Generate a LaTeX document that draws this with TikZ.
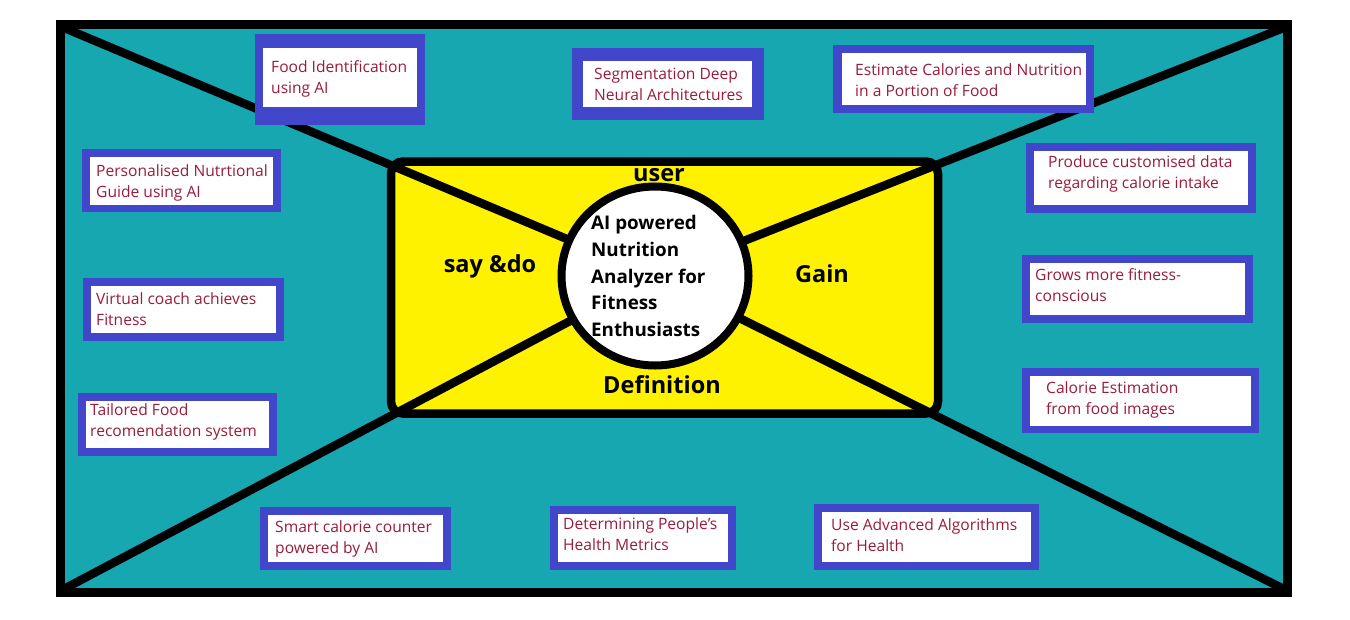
\documentclass[tikz,border=0pt]{standalone}
\usepackage{fontspec}
\setmainfont{Open Sans}
\usetikzlibrary{shapes.geometric}
\definecolor{tealbg}{HTML}{17A7B0}
\definecolor{boxblue}{HTML}{4146CB}
\definecolor{hubyellow}{HTML}{FFF200}
\definecolor{txtred}{HTML}{9A1C3C}
\tikzset{
  bluepart/.style={fill=boxblue},
  whitepart/.style={fill=white},
  boxtext/.style={anchor=west, align=left, inner sep=0pt, text=txtred, yshift=-1.5pt,
    font=\fontsize{15.6}{21}\selectfont},
  sidelabel/.style={inner sep=0pt, font=\fontsize{23.5}{26}\selectfont\bfseries},
  heavy/.style={line width=8.5pt, black},
}
\begin{document}
\begin{tikzpicture}[x=1pt,y=-1pt]
\useasboundingbox (0,0) rectangle (1350,619);
% background panel
\fill[tealbg] (60.5,24) rectangle (1287.5,592.5);
% central yellow rectangle
\draw[heavy, fill=hubyellow, rounded corners=12pt] (391,161.5) rectangle (938,413.5);
% diagonals
\coordinate (c) at (655,276);
\coordinate (tl) at (62,27);
\coordinate (tr) at (1286,27);
\coordinate (bl) at (62,590);
\coordinate (br) at (1286,590);
\draw[heavy] (tl) -- (c);
\draw[heavy] (tr) -- (c);
\draw[heavy] (bl) -- (c);
\draw[heavy] (br) -- (c);
% outer border
\draw[line width=9pt, black] (60.5,24) rectangle (1287.5,592.5);
% hub circle
\node[ellipse, draw=black, line width=8pt, fill=white, minimum width=187pt, minimum height=179pt, inner sep=0pt] (hub) at (c) {};
\node[anchor=west, align=left, inner sep=0pt, font=\fontsize{18.8}{26.7}\selectfont\bfseries] (hubtext) at (591,276)
  {AI powered\\Nutrition\\Analyzer for\\Fitness\\Enthusiasts};
% side labels
\node[sidelabel] (user) at (659,175) {user};
\node[sidelabel] (saydo) at (490,266) {say \&do};
\node[sidelabel] (gain) at (822,274) {Gain};
\node[sidelabel] (defn) at (662,385) {Definition};
% boxes
\fill[bluepart] (255,34) rectangle (425,125);
\fill[whitepart] (263,48) rectangle (417,107);
\node[boxtext] (t1) at (271,77.5) {Food Identification\\using AI};

\fill[bluepart] (82,149) rectangle (281,212);
\fill[whitepart] (90,157) rectangle (273,205);
\node[boxtext] (t2) at (96,181.5) {Personalised Nutrtional\\Guide using AI};

\fill[bluepart] (572,48) rectangle (764,120);
\fill[whitepart] (583,61) rectangle (752,107);
\node[boxtext] (t3) at (594,82.5) {Segmentation Deep\\Neural Architectures};

\fill[bluepart] (833,45) rectangle (1094,113);
\fill[whitepart] (842,53) rectangle (1086,105);
\node[boxtext] (t4) at (855,78.5) {Estimate Calories and Nutrition\\in a Portion of Food};

\fill[bluepart] (1026,143) rectangle (1256,213);
\fill[whitepart] (1034,151) rectangle (1248,205);
\node[boxtext] (t5) at (1048,172.5) {Produce customised data\\regarding calorie intake};

\fill[bluepart] (1022,255) rectangle (1253,323);
\fill[whitepart] (1030,263) rectangle (1245,315);
\node[boxtext] (t6) at (1035,284) {Grows more fitness-\\conscious};

\fill[bluepart] (1022,368) rectangle (1259,433);
\fill[whitepart] (1030,376) rectangle (1251,426);
\node[boxtext] (t7) at (1046,398) {Calorie Estimation\\from food images};

\fill[bluepart] (83,278) rectangle (284,341);
\fill[whitepart] (91,286) rectangle (276,333);
\node[boxtext] (t8) at (96,307.5) {Virtual coach achieves\\Fitness};

\fill[bluepart] (78,393) rectangle (277,456);
\fill[whitepart] (86,401) rectangle (269,448);
\node[boxtext] (t9) at (90,420.5) {Tailored Food\\recomendation system};

\fill[bluepart] (260,507) rectangle (451,570);
\fill[whitepart] (268,515) rectangle (443,562);
\node[boxtext] (t10) at (275,537.5) {Smart calorie counter\\powered by AI};

\fill[bluepart] (550,506) rectangle (736,570);
\fill[whitepart] (558,514) rectangle (728,562);
\node[boxtext] (t11) at (563,533) {Determining People’s\\Health Metrics};

\fill[bluepart] (814,504) rectangle (1039,570);
\fill[whitepart] (822,512) rectangle (1031,562);
\node[boxtext] (t12) at (831,534) {Use Advanced Algorithms\\for Health};
\end{tikzpicture}
\end{document}
